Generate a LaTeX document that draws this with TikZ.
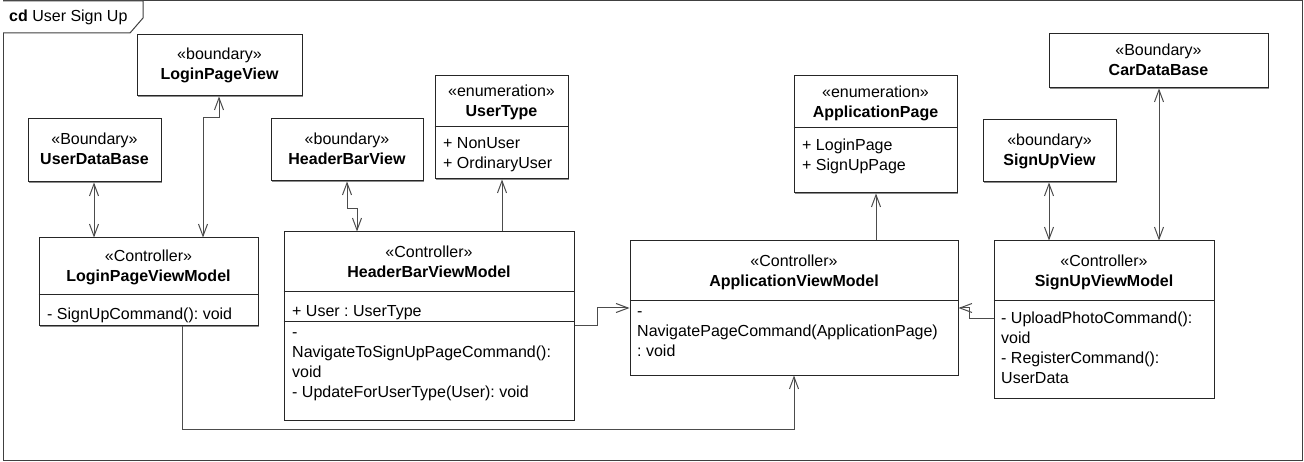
\documentclass[tikz,border=0pt]{standalone}
\usepackage{fontspec}
\setmainfont{Liberation Sans}
\frenchspacing
\usetikzlibrary{arrows.meta, shadows}
\begin{document}
\begin{tikzpicture}[x=1pt, y=-1pt, font=\fontsize{16}{20}\selectfont,
  >={Straight Barb[length=12pt, width=9pt]},
  cls/.style={draw=black!85, fill=white, line width=1pt, inner sep=0pt, drop shadow={shadow xshift=1pt, shadow yshift=-1pt, fill=black!45, opacity=1}},
  hd/.style={align=center, inner sep=0pt, execute at begin node=\strut},
  itm/.style={anchor=north west, align=left, inner sep=0pt, yshift=-2.5pt, execute at begin node=\strut},
  lnk/.style={draw=black!70, line width=1pt}]
  \useasboundingbox (0,0) rectangle (1304,462);
  \draw[draw=black!75, line width=1pt] (3,1) rectangle (1302,460);
  \draw[draw=black!75, line width=1pt, fill=white] (3,1) -- (143,1) -- (143,18) -- (130,33) -- (3,33);
  \node[anchor=west, inner sep=0pt] (title) at (9,17) {\textbf{cd} User Sign Up};

  \node[cls, hd, minimum width=165, minimum height=61] (lpv) at (219.5,65.5) {\raisebox{-2.5pt}{«boundary»}\\\raisebox{-2.5pt}{\textbf{LoginPageView}}};
  \node[cls, hd, minimum width=133, minimum height=63] (udb) at (94.5,150.5) {\raisebox{-2.5pt}{«Boundary»}\\\raisebox{-2.5pt}{\textbf{UserDataBase}}};
  \node[cls, hd, minimum width=152, minimum height=62] (hbv) at (347,150) {\raisebox{-2.5pt}{«boundary»}\\\raisebox{-2.5pt}{\textbf{HeaderBarView}}};
  \node[cls, hd, minimum width=219, minimum height=54] (cdb) at (1158.5,61) {\raisebox{-2.5pt}{«Boundary»}\\\raisebox{-2.5pt}{\textbf{CarDataBase}}};
  \node[cls, hd, minimum width=133, minimum height=62] (suv) at (1049.5,151) {\raisebox{-2.5pt}{«boundary»}\\\raisebox{-2.5pt}{\textbf{SignUpView}}};

  \node[cls, minimum width=133, minimum height=103] (ut) at (501.5,127.5) {};
  \node[hd] (utt) at (501.5,104) {«enumeration»\\\textbf{UserType}};
  \draw[lnk, draw=black!85] (ut.west |- 0,127) -- (ut.east |- 0,127);
  \node[itm] (uti) at (443,135) {+ NonUser\\+ OrdinaryUser};

  \node[cls, minimum width=290, minimum height=188] (hbvm) at (429,326) {};
  \node[hd] (hbvmt) at (429,264.5) {«Controller»\\\textbf{HeaderBarViewModel}};
  \draw[lnk, draw=black!85] (hbvm.west |- 0,292) -- (hbvm.east |- 0,292);
  \draw[lnk, draw=black!85] (hbvm.west |- 0,322) -- (hbvm.east |- 0,322);
  \node[itm] (hbvma) at (292,300) {+ User : UserType};
  \node[itm] (hbvmo) at (292,330) {-\\NavigateToSignUpPageCommand():\\void\\- UpdateForUserType(User): void};

  \node[cls, minimum width=219, minimum height=88] (lpvm) at (148.5,282) {};
  \node[hd] (lpvmt) at (148.5,269) {«Controller»\\\textbf{LoginPageViewModel}};
  \draw[lnk, draw=black!85] (lpvm.west |- 0,295) -- (lpvm.east |- 0,295);
  \node[itm] (lpvmo) at (47,303) {- SignUpCommand(): void};

  \node[cls, minimum width=328, minimum height=134] (avm) at (794,308) {};
  \node[hd] (avmt) at (794,273.5) {«Controller»\\\textbf{ApplicationViewModel}};
  \draw[lnk, draw=black!85] (avm.west |- 0,301) -- (avm.east |- 0,301);
  \node[itm] (avmo) at (637,309) {-\\NavigatePageCommand(ApplicationPage)\\: void};

  \node[cls, minimum width=163, minimum height=117] (ap) at (875.5,134.5) {};
  \node[hd] (apt) at (875.5,104.5) {«enumeration»\\\textbf{ApplicationPage}};
  \draw[lnk, draw=black!85] (ap.west |- 0,128) -- (ap.east |- 0,128);
  \node[itm] (api) at (802,136) {+ LoginPage\\+ SignUpPage};

  \node[cls, minimum width=220, minimum height=157] (suvm) at (1104,319.5) {};
  \node[hd] (suvmt) at (1104,273.5) {«Controller»\\\textbf{SignUpViewModel}};
  \draw[lnk, draw=black!85] (suvm.west |- 0,301) -- (suvm.east |- 0,301);
  \node[itm] (suvmo) at (1001,309) {- UploadPhotoCommand():\\void\\- RegisterCommand():\\UserData};

  \draw[lnk, <->] (94,0 |- udb.south) -- (94,0 |- lpvm.north);
  \draw[lnk, <->] (219,0 |- lpv.south) |- (203,118) -- (203,0 |- lpvm.north);
  \draw[lnk, <->] (347,0 |- hbv.south) |- (357,209) -- (357,0 |- hbvm.north);
  \draw[lnk, ->] (502,0 |- hbvm.north) -- (502,0 |- ut.south);
  \draw[lnk, ->] (hbvm.east |- 0,326) -| (597,308) -- (avm.west |- 0,308);
  \draw[lnk, ->] (876,0 |- avm.north) -- (876,0 |- ap.south);
  \draw[lnk, ->] (suvm.west |- 0,319) -| (969,308) -- (avm.east |- 0,308);
  \draw[lnk, ->] (182,0 |- lpvm.south) |- (794,429) -- (794,0 |- avm.south);
  \draw[lnk, <->] (1049,0 |- suv.south) -- (1049,0 |- suvm.north);
  \draw[lnk, <->] (1159,0 |- cdb.south) -- (1159,0 |- suvm.north);
\end{tikzpicture}
\end{document}
